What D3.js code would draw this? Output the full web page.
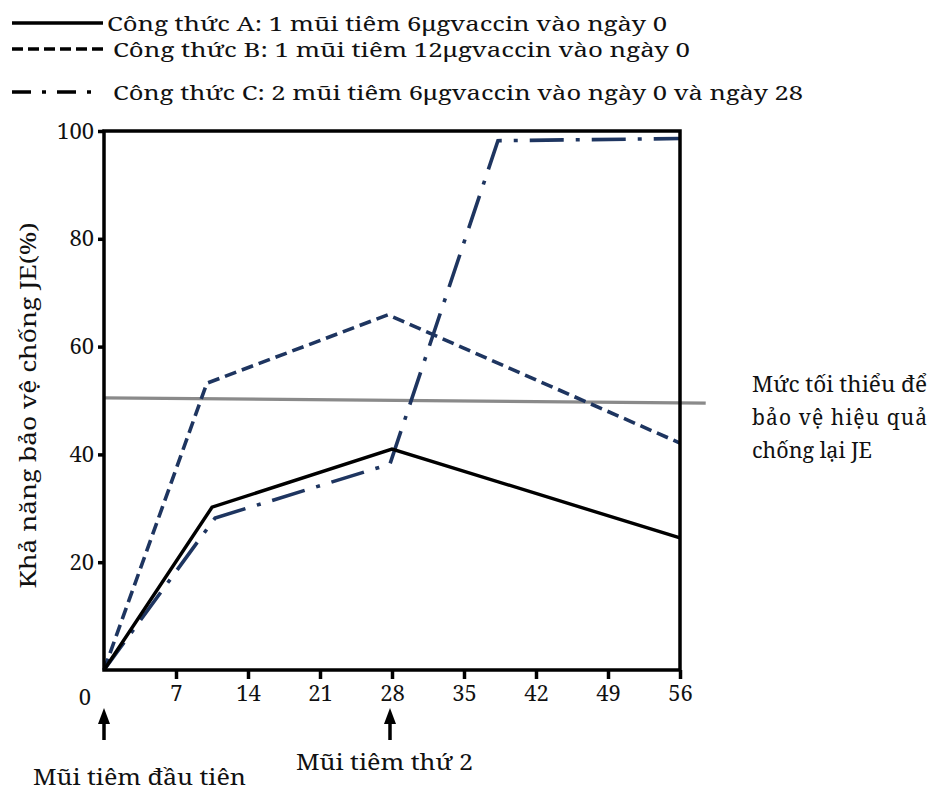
<!DOCTYPE html>
<html><head><meta charset="utf-8">
<script src="https://cdn.jsdelivr.net/npm/d3@7/dist/d3.min.js"></script>
<style>body{margin:0;background:#fff}svg{display:block}svg text{font-family:"Noto Serif","Liberation Serif",serif !important;fill:#111}</style>
</head><body>
<script>
const days = [0, 7, 14, 21, 28, 35, 42, 49, 56];
const yTicks = [20, 40, 60, 80, 100];
const seriesA = [[0, 0], [10.5, 30.2], [28, 41], [56, 24.5]];
const seriesB = [[0, 0], [10, 53.2], [27.6, 65.9], [56, 42.1]];
const seriesC = [[0, 0], [10.8, 28.2], [27.8, 38.2], [38.3, 98.2], [56, 98.6]];
const threshold = [[0, 50.5], [58.5, 49.5]];
const legendLabels = [
  "Công thức A: 1 mũi tiêm 6μgvaccin vào ngày 0",
  "Công thức B: 1 mũi tiêm 12μgvaccin vào ngày 0",
  "Công thức C: 2 mũi tiêm 6μgvaccin vào ngày 0 và ngày 28"
];
const yTitle = "Khả năng bảo vệ chống JE(%)";
const arrowLabels = [[0, "Mũi tiêm đầu tiên"], [28, "Mũi tiêm thứ 2"]];
const noteLines = ["Mức tối thiểu để", "bảo vệ hiệu quả", "chống lại JE"];

const W = 944, H = 799;
const svg = d3.select("body").append("svg").attr("width", W).attr("height", H);
const x = d3.scaleLinear().domain([0, 56]).range([104, 680]);
const y = d3.scaleLinear().domain([0, 100]).range([670, 131]);
const navy = "#1e3560";
const FS = 22;

svg.append("path").datum(threshold)
  .attr("d", d3.line().x(d => x(d[0])).y(d => y(d[1])))
  .attr("fill", "none").attr("stroke", "#8a8a8a").attr("stroke-width", 3.2);

const line = d3.line().x(d => x(d[0])).y(d => y(d[1]));
svg.append("path").datum(seriesB).attr("d", line).attr("fill", "none")
  .attr("stroke", navy).attr("stroke-width", 3.6).attr("stroke-dasharray", "12,6");
svg.append("path").datum(seriesC).attr("d", line).attr("fill", "none")
  .attr("stroke", navy).attr("stroke-width", 3.6).attr("stroke-dasharray", "34,12,4,12");
svg.append("path").datum(seriesA).attr("d", line).attr("fill", "none")
  .attr("stroke", "#000").attr("stroke-width", 3.4);

svg.append("rect").attr("x", x(0)).attr("y", y(100))
  .attr("width", x(56) - x(0)).attr("height", y(0) - y(100))
  .attr("fill", "none").attr("stroke", "#000").attr("stroke-width", 3.5);

const xAxis = d3.axisBottom(x).tickValues(days.slice(1)).tickSize(9).tickPadding(6).tickFormat(d3.format("d"));
const gx = svg.append("g").attr("transform", `translate(0,${y(0)})`).call(xAxis).attr("font-family", null);
gx.select(".domain").remove();
gx.selectAll(".tick line").attr("stroke", "#000").attr("stroke-width", 3.5);
gx.selectAll(".tick text").attr("font-size", FS).attr("fill", "#111");
svg.append("text").attr("x", 85).attr("y", 705).attr("text-anchor", "middle").attr("font-size", FS).text(days[0]);

const yAxis = d3.axisLeft(y).tickValues(yTicks).tickSize(6).tickPadding(4);
const gy = svg.append("g").attr("transform", `translate(${x(0)},0)`).call(yAxis).attr("font-family", null);
gy.select(".domain").remove();
gy.selectAll(".tick line").attr("stroke", "#000").attr("stroke-width", 3.5);
gy.selectAll(".tick text").attr("font-size", FS).attr("fill", "#111");

svg.append("text").attr("transform", `translate(36,${y(50) + 5}) rotate(-90)`)
  .attr("text-anchor", "middle").attr("font-size", 21)
  .attr("textLength", 366).attr("lengthAdjust", "spacingAndGlyphs").text(yTitle);

const legY = [23, 49, 92];
const legTextX = [107, 113, 113];
const legLen = [560, 577, 690];
const legDash = [null, "11,5", "19,11,4,11"];
const legEnd = [103, 103, 95];
legendLabels.forEach((t, i) => {
  svg.append("line").attr("x1", 12).attr("x2", legEnd[i]).attr("y1", legY[i]).attr("y2", legY[i])
    .attr("stroke", "#000").attr("stroke-width", 3.5).attr("stroke-dasharray", legDash[i]);
  svg.append("text").attr("x", legTextX[i]).attr("y", legY[i] + 8)
    .attr("font-size", 19).attr("textLength", legLen[i]).attr("lengthAdjust", "spacingAndGlyphs").text(t);
});

const arrowLabelPos = [[33, 785, 213], [296, 770, 177]];
arrowLabels.forEach((a, i) => {
  const ax = x(a[0]) - (i === 1 ? 2 : 0);
  svg.append("line").attr("x1", ax).attr("x2", ax).attr("y1", 740).attr("y2", 722)
    .attr("stroke", "#000").attr("stroke-width", 3.5);
  svg.append("path").attr("d", `M${ax - 6},${724} L${ax},${708} L${ax + 6},${724} Z`).attr("fill", "#000");
  svg.append("text").attr("x", arrowLabelPos[i][0]).attr("y", arrowLabelPos[i][1]).attr("font-size", 21)
    .attr("textLength", arrowLabelPos[i][2]).attr("lengthAdjust", "spacingAndGlyphs").text(a[1]);
});

const noteBase = [392, 425, 458];
const noteLen = [175, 175, 120];
noteLines.forEach((t, i) => {
  svg.append("text").attr("x", 752).attr("y", noteBase[i]).attr("font-size", 21)
    .attr("textLength", noteLen[i]).attr("lengthAdjust", i === 1 ? "spacing" : "spacingAndGlyphs").text(t);
});
</script>
</body></html>
